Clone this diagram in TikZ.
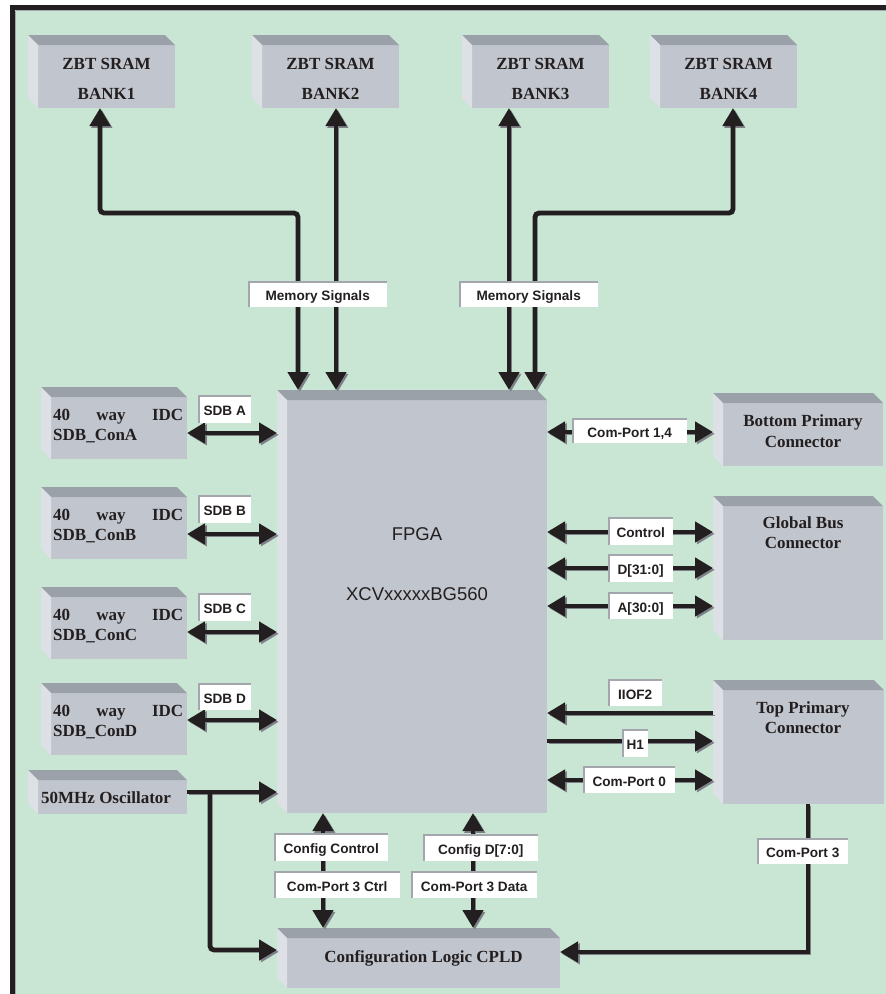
\documentclass[tikz,border=0pt]{standalone}
\usepackage{fontspec}
\setmainfont{Liberation Serif}
\newfontfamily\arialf{Liberation Sans}
\usetikzlibrary{arrows.meta}
\definecolor{bg}{HTML}{C9E5D3}
\definecolor{boxface}{HTML}{C1C5CD}
\definecolor{bevtop}{HTML}{9BA1A9}
\definecolor{bevleft}{HTML}{DDE0E5}
\definecolor{ink}{HTML}{231F20}
\definecolor{shadowc}{HTML}{7E8288}
\definecolor{lblgray}{HTML}{A3A7AD}
\newcommand\ppbb{path picture bounding box}
\tikzset{
  Big/.tip={Triangle[length=18pt,width=20pt]},
  conn/.style={draw=ink, line width=4.8pt,
    preaction={draw=shadowc, transform canvas={shift={(1.8,1.8)}}}},
  box3d/.style={inner sep=0pt, outer sep=0pt, anchor=north west,
    path picture={
      \fill[boxface] ([xshift=10pt,yshift=-10pt]\ppbb.north west) rectangle (\ppbb.south east);
      \fill[bevtop] (\ppbb.north west) -- ([xshift=-10pt]\ppbb.north east)
        -- ([yshift=-10pt]\ppbb.north east) -- ([xshift=10pt,yshift=-10pt]\ppbb.north west) -- cycle;
      \fill[bevleft] (\ppbb.north west) -- ([xshift=10pt,yshift=-10pt]\ppbb.north west)
        -- ([xshift=10pt]\ppbb.south west) -- ([yshift=10pt]\ppbb.south west) -- cycle;
    }},
  ttl/.style={inner sep=0pt, text=ink, font=\fontsize{17}{20}\selectfont\bfseries},
  big/.style={inner sep=0pt, text=ink, font=\arialf\fontsize{18.5}{22}\selectfont},
  lbl/.style={fill=white, inner sep=0pt, anchor=north west, text=ink,
    text height=13pt, text depth=0pt,
    font=\arialf\fontsize{13.6}{16}\selectfont\bfseries,
    path picture={\draw[lblgray, line width=3.5pt] (\ppbb.south west) -- (\ppbb.north west) -- (\ppbb.north east);}}
}
% box: name, x1, y1, x2, y2 (front face)
\newcommand\mybox[5]{\node[box3d, minimum width=#4-#2+10, minimum height=#5-#3+10] (#1) at (#2-10,#3-10) {};}
% label: name, x1, y1, x2, y2, text
\newcommand\mylbl[6]{\node[lbl, minimum width=#4-#2, minimum height=#5-#3] (#1) at (#2,#3) {#6};}
\begin{document}
\begin{tikzpicture}[x=1pt,y=-1pt]
\useasboundingbox (0,0) rectangle (886,994);
% frame
\fill[white] (0,0) rectangle (886,994);
\fill[bg] (15,10) rectangle (886,994);
\fill[ink] (10,5) rectangle (15,994);
\fill[ink] (10,5) rectangle (886,10);
\draw[lblgray, line width=1pt] (15.5,10.5) -- (15.5,994);
\draw[lblgray, line width=1pt] (15.5,10.5) -- (886,10.5);

% boxes
\mybox{zbt1}{38}{45}{175}{108}
\mybox{zbt2}{262}{45}{399}{108}
\mybox{zbt3}{472}{45}{609}{108}
\mybox{zbt4}{660}{45}{797}{108}
\mybox{sdbA}{51}{397}{187}{459}
\mybox{sdbB}{51}{497}{187}{559}
\mybox{sdbC}{51}{597}{187}{659}
\mybox{sdbD}{51}{693}{187}{755}
\mybox{osc}{38}{780}{187}{814}
\mybox{fpga}{287}{400}{547}{813}
\mybox{cpld}{287}{938}{560}{988}
\mybox{bpc}{723}{403}{883}{466}
\mybox{gbc}{723}{506}{883}{640}
\mybox{tpc}{723}{690}{884}{804}

% box texts
\foreach \n/\x in {1/106.5,2/330.5,3/540.5,4/728.5}{
  \node[ttl, anchor=base] (zt\n) at (\x,69) {ZBT SRAM};
  \node[ttl, anchor=base] (zb\n) at (\x,99) {BANK\n};
}
\foreach \n/\y in {A/397,B/497,C/597,D/693}{
  \node[ttl, anchor=base west] (st\n) at (53,\y+23) {\makebox[130pt][s]{40 way IDC}};
  \node[ttl, anchor=base west] (sb\n) at (53,\y+43) {SDB\_Con\n};
}
\node[ttl, anchor=base west] (osct) at (41,803) {50MHz Oscillator};
\node[ttl, anchor=base] (cpldt) at (423.5,962) {Configuration Logic CPLD};
\node[ttl, anchor=base] (bpct1) at (803,426) {Bottom Primary};
\node[ttl, anchor=base] (bpct2) at (803,447) {Connector};
\node[ttl, anchor=base] (gbct1) at (803,528) {Global Bus};
\node[ttl, anchor=base] (gbct2) at (803,548) {Connector};
\node[ttl, anchor=base] (tpct1) at (803,713) {Top Primary};
\node[ttl, anchor=base] (tpct2) at (803,733) {Connector};
\node[big, anchor=base] (fpgat1) at (417,540) {FPGA};
\node[big, anchor=base] (fpgat2) at (417,600) {XCVxxxxxBG560};

% memory connectors
\coordinate (m1a) at (100,213); \coordinate (m1b) at (298,213);
\coordinate (m2) at (336,213);
\coordinate (m3) at (509,213);
\coordinate (m4a) at (733,213); \coordinate (m4b) at (535,213);
\draw[conn, Big-Big, rounded corners=4pt] (zbt1.south -| m1a) -- (m1a) -- (m1b) -- (fpga.north -| m1b);
\draw[conn, Big-Big] (zbt2.south -| m2) -- (fpga.north -| m2);
\draw[conn, Big-Big] (zbt3.south -| m3) -- (fpga.north -| m3);
\draw[conn, Big-Big, rounded corners=4pt] (zbt4.south -| m4a) -- (m4a) -- (m4b) -- (fpga.north -| m4b);
\mylbl{memL}{248}{281}{387}{307}{Memory Signals}
\mylbl{memR}{459}{281}{598}{307}{Memory Signals}

% SDB connectors
\draw[conn, Big-Big] (sdbA.east |- 0,433) -- (fpga.west |- 0,433);
\draw[conn, Big-Big] (sdbB.east |- 0,534) -- (fpga.west |- 0,534);
\draw[conn, Big-Big] (sdbC.east |- 0,632) -- (fpga.west |- 0,632);
\draw[conn, Big-Big] (sdbD.east |- 0,720) -- (fpga.west |- 0,720);
\mylbl{lA}{198}{395}{251}{423}{SDB A}
\mylbl{lB}{198}{495}{251}{523}{SDB B}
\mylbl{lC}{198}{593}{251}{621}{SDB C}
\mylbl{lD}{198}{683}{251}{710}{SDB D}

% oscillator
\coordinate (ob) at (210,792); \coordinate (oc) at (210,950);
\draw[conn, -Big] (osc.east |- 0,792) -- (fpga.west |- 0,792);
\draw[conn, -Big, rounded corners=4pt] (ob) -- (oc) -- (cpld.west |- oc);

% config connectors
\coordinate (cc) at (323,870); \coordinate (cd) at (473,870);
\draw[conn, Big-Big] (fpga.south -| cc) -- (cpld.north -| cc);
\draw[conn, Big-Big] (fpga.south -| cd) -- (cpld.north -| cd);
\mylbl{lcc}{274}{833}{388}{861}{Config Control}
\mylbl{lcp3c}{274}{871}{400}{898}{Com-Port 3 Ctrl}
\mylbl{lcd}{423}{834}{538}{861}{Config D[7:0]}
\mylbl{lcp3d}{411}{871}{537}{898}{Com-Port 3 Data}

% right side
\draw[conn, Big-Big] (fpga.east |- 0,432) -- (bpc.west |- 0,432);
\draw[conn, Big-Big] (fpga.east |- 0,532) -- (gbc.west |- 0,532);
\draw[conn, Big-Big] (fpga.east |- 0,568) -- (gbc.west |- 0,568);
\draw[conn, Big-Big] (fpga.east |- 0,606) -- (gbc.west |- 0,606);
\draw[conn, -Big] (tpc.west |- 0,713) -- (fpga.east |- 0,713);
\draw[conn, -Big] (fpga.east |- 0,741) -- (tpc.west |- 0,741);
\draw[conn, Big-Big] (fpga.east |- 0,780) -- (tpc.west |- 0,780);
\mylbl{lcp14}{572}{418}{687}{443}{Com-Port 1,4}
\mylbl{lctl}{608}{517}{673}{545}{Control}
\mylbl{ld}{608}{554}{673}{582}{D[31:0]}
\mylbl{la}{608}{592}{673}{619}{A[30:0]}
\mylbl{liiof}{608}{679}{662}{706}{IIOF2}
\mylbl{lh1}{622}{729}{648}{757}{H1}
\mylbl{lcp0}{583}{766}{675}{793}{Com-Port 0}

% com-port 3
\coordinate (cp3) at (808,952);
\draw[conn, -Big] (tpc.south -| cp3) -- (cp3) -- (cpld.east |- cp3);
\mylbl{lcp3}{757}{838}{848}{864}{Com-Port 3}
\end{tikzpicture}
\end{document}
